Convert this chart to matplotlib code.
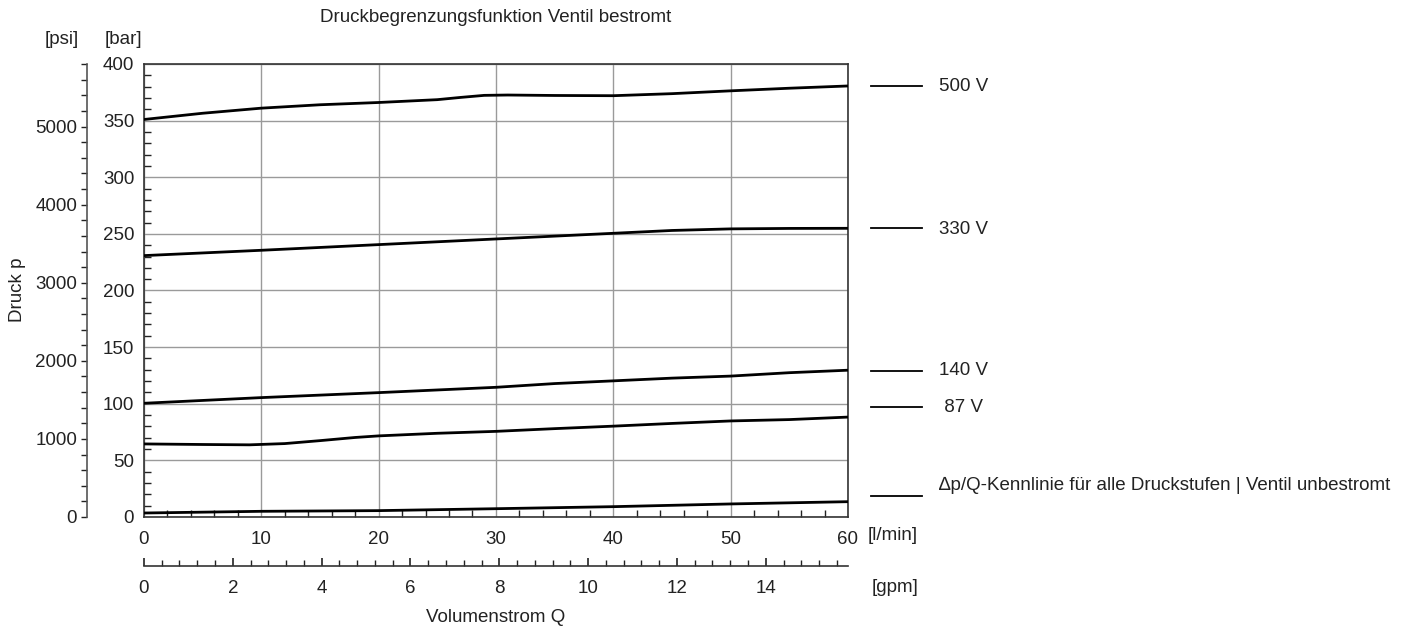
import matplotlib
matplotlib.use('Agg')
from matplotlib import pyplot as plt
import numpy as np

plt.rcParams['font.family'] = ['Liberation Sans', 'DejaVu Sans']
plt.rcParams['font.size'] = 13.5
plt.rcParams['text.color'] = '#222222'

# flow [l/min] and pressure [bar]
q_500 = [0, 5, 10, 15, 20, 25, 27, 29, 31, 35, 40, 45, 50, 55, 60]
p_500 = [351, 356.5, 361, 364, 366, 368.5, 370.5, 372.3, 372.6, 372.2, 372, 373.8, 376.3, 378.6, 380.6]

q_330 = [0, 10, 20, 30, 40, 45, 50, 55, 60]
p_330 = [230.8, 235.5, 240.5, 245.5, 250.5, 253, 254.4, 254.8, 254.9]

q_140 = [0, 10, 20, 30, 35, 40, 45, 50, 55, 60]
p_140 = [100.4, 105.4, 109.8, 114.5, 117.8, 120.2, 122.6, 124.4, 127.4, 129.6]

q_87 = [0, 5, 9, 12, 15, 18, 20, 25, 30, 35, 40, 45, 50, 55, 60]
p_87 = [64.5, 64.0, 63.7, 64.8, 67.4, 70.2, 71.6, 73.9, 75.6, 78.0, 80.2, 82.6, 84.8, 86.0, 88.2]

q_off = [0, 10, 20, 30, 40, 50, 60]
p_off = [3.5, 5.0, 5.6, 7.3, 9.1, 11.5, 13.5]

labels = ['500 V', '330 V', '140 V', ' 87 V',
          '\u2206p/Q-Kennlinie f\u00fcr alle Druckstufen | Ventil unbestromt']
label_y = [381, 255, 129, 97, 18.5]
text_y = [380, 254, 129, 97, 28]

lpm_ticks = [0, 10, 20, 30, 40, 50, 60]
bar_ticks = [0, 50, 100, 150, 200, 250, 300, 350, 400]
gpm_ticks = [0, 2, 4, 6, 8, 10, 12, 14]
psi_ticks = [0, 1000, 2000, 3000, 4000, 5000]

fig = plt.figure(figsize=(14.03, 6.28), dpi=100)
ax = fig.add_axes([0.1026, 0.1768, 0.5018, 0.7213])

for q, p in [(q_500, p_500), (q_330, p_330), (q_140, p_140), (q_87, p_87), (q_off, p_off)]:
    ax.plot(q, p, color='black', lw=2.0, solid_capstyle='butt', zorder=3)

ax.set_xlim(0, 60)
ax.set_ylim(0, 400)
ax.set_xticks(lpm_ticks)
ax.set_yticks(bar_ticks)
ax.set_xticks(np.arange(0, 61, 2), minor=True)
ax.set_yticks(np.arange(0, 401, 10), minor=True)
ax.grid(True, which='major', color='#9a9a9a', lw=1.0)
ax.tick_params(which='both', direction='in', colors='#222222', labelsize=13.5)
ax.tick_params(which='major', length=0)
ax.tick_params(axis='x', which='major', pad=10)
ax.tick_params(axis='y', which='major', pad=7)
ax.tick_params(which='minor', length=5, width=1)
for s in ax.spines.values():
    s.set_color('#333333')
    s.set_linewidth(1.2)

# psi axis
psi = ax.secondary_yaxis(-0.081, functions=(lambda b: b * 14.5038, lambda p: p / 14.5038))
psi.set_yticks(psi_ticks)
psi.set_yticks(np.arange(0, 5801, 200), minor=True)
psi.tick_params(which='both', direction='out', length=4, width=1, colors='#222222', labelsize=13.5)
psi.tick_params(which='major', pad=3)
psi.spines['left'].set_color('#555555')
psi.spines['left'].set_linewidth(1.2)

# gpm axis
gpm = ax.secondary_xaxis(-0.108, functions=(lambda l: l / 3.78541, lambda g: g * 3.78541))
gpm.set_xticks(gpm_ticks)
gpm.set_xticks(np.arange(0, 15.9, 0.4), minor=True)
gpm.tick_params(which='major', direction='in', length=6, width=1.2, pad=10, colors='#222222', labelsize=13.5)
gpm.tick_params(which='minor', direction='in', length=4, width=1, colors='#222222')
gpm.spines['bottom'].set_color('#333333')
gpm.spines['bottom'].set_linewidth(1.2)

# legend on the right
for lab, ly, ty in zip(labels, label_y, text_y):
    ax.plot([62.0, 66.3], [ly, ly], color='black', lw=1.3, clip_on=False)
    ax.text(67.8, ty, lab, ha='left', va='center', fontsize=13.5)

fig.text(496 / 1403, 1 - 18 / 628, 'Druckbegrenzungsfunktion Ventil bestromt', ha='center', va='center')
fig.text(62 / 1403, 1 - 39 / 628, '[psi]', ha='center', va='center')
fig.text(123 / 1403, 1 - 39 / 628, '[bar]', ha='center', va='center')
fig.text(17 / 1403, 1 - 290 / 628, 'Druck p', ha='center', va='center', rotation=90)
fig.text(868 / 1403, 1 - 536 / 628, '[l/min]', ha='left', va='center')
fig.text(872 / 1403, 1 - 587 / 628, '[gpm]', ha='left', va='center')
fig.text(496 / 1403, 1 - 618 / 628, 'Volumenstrom Q', ha='center', va='center')

fig.savefig('out.png', dpi=100)
